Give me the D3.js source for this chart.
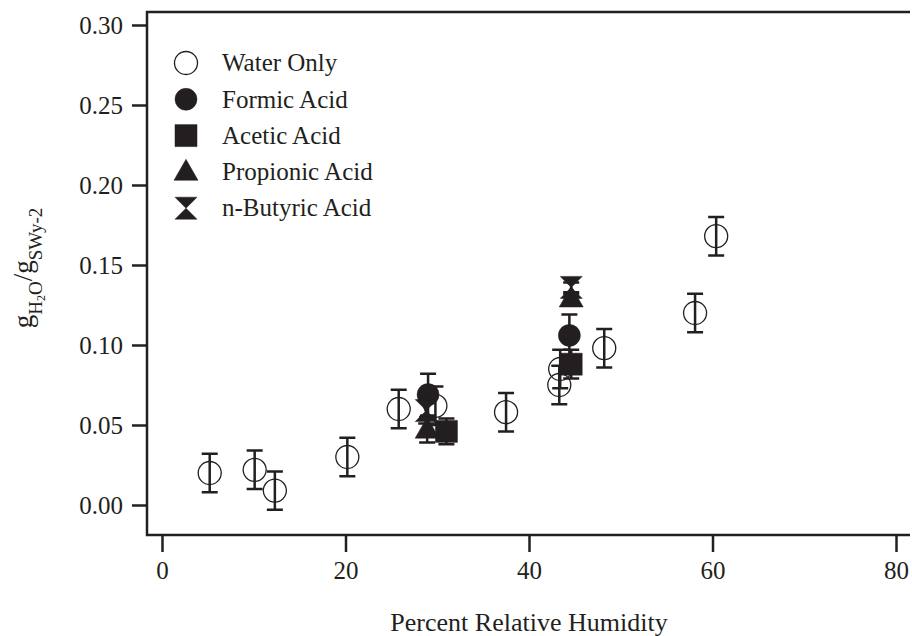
<!DOCTYPE html>
<html>
<head>
<meta charset="utf-8">
<script src="https://cdn.jsdelivr.net/npm/d3@7"></script>
<style>
  html, body { margin: 0; padding: 0; background: #fff; }
  svg { display: block; }
  text { font-family: "Liberation Serif", "Times New Roman", serif; fill: #231f20; }
</style>
</head>
<body>
<svg id="chart" width="912" height="636"></svg>
<script>
// ---- data ----
const xTicks = [0, 20, 40, 60, 80];
const yTicks = [0.00, 0.05, 0.10, 0.15, 0.20, 0.25, 0.30];

const seriesNames = ["Water Only", "Formic Acid", "Acetic Acid", "Propionic Acid", "n-Butyric Acid"];

const waterRH  = [5.2, 10.1, 12.3, 20.2, 25.8, 29.8, 37.5, 43.3, 43.4, 48.2, 58.1, 60.4];
const waterVal = [0.020, 0.022, 0.009, 0.030, 0.060, 0.062, 0.058, 0.075, 0.085, 0.098, 0.120, 0.168];
const waterErr = [0.012, 0.012, 0.012, 0.012, 0.012, 0.012, 0.012, 0.012, 0.012, 0.012, 0.012, 0.012];

const formicRH  = [29.0, 44.4];
const formicVal = [0.069, 0.106];
const formicErr = [0.013, 0.013];

const aceticRH  = [31.0, 44.6];
const aceticVal = [0.046, 0.088];
const aceticErr = [0.008, 0.009];

const propionicRH  = [28.9, 44.6];
const propionicVal = [0.047, 0.129];
const propionicErr = [0.008, 0.003];

const butyricRH  = [28.8, 44.6];
const butyricVal = [0.059, 0.136];
const butyricErr = [0.008, 0.003];

// ---- layout ----
const ink = "#231f20";
const svg = d3.select("#chart");
const x = d3.scaleLinear().domain([0, 80]).range([162, 896]);
const y = d3.scaleLinear().domain([0, 0.30]).range([505, 25]);
const frame = { left: 147, right: 910, top: 12, bottom: 535 };

function markerPath(kind, open) {
  switch (kind) {
    case "circle": {
      const r = open ? 11.5 : 11;
      return `M${-r},0A${r},${r} 0 1,0 ${r},0A${r},${r} 0 1,0 ${-r},0Z`;
    }
    case "square": {
      const s = 11;
      return `M${-s},${-s}H${s}V${s}H${-s}Z`;
    }
    case "triangle": {
      const w = 12, h = 21;
      return `M0,${-h * 0.6}L${w},${h * 0.4}L${-w},${h * 0.4}Z`;
    }
    case "hourglass": {
      const w = 11, h = 11;
      return `M${-w},${-h}H${w}L0,0L${w},${h}H${-w}L0,0Z`;
    }
  }
}

const series = [
  { name: seriesNames[0], rh: waterRH, val: waterVal, err: waterErr, kind: "circle", open: true },
  { name: seriesNames[1], rh: formicRH, val: formicVal, err: formicErr, kind: "circle", open: false },
  { name: seriesNames[2], rh: aceticRH, val: aceticVal, err: aceticErr, kind: "square", open: false },
  { name: seriesNames[3], rh: propionicRH, val: propionicVal, err: propionicErr, kind: "triangle", open: false },
  { name: seriesNames[4], rh: butyricRH, val: butyricVal, err: butyricErr, kind: "hourglass", open: false }
];

// ---- axes ----
const xAxis = d3.axisBottom(x).tickValues(xTicks).tickSize(17).tickSizeOuter(0).tickPadding(9).tickFormat(d3.format("d"));
const gx = svg.append("g").attr("transform", `translate(0,${frame.bottom})`).call(xAxis);
gx.select(".domain").remove();
gx.selectAll(".tick line").attr("stroke", ink).attr("stroke-width", 2.5);
gx.selectAll(".tick text").attr("font-size", 25).attr("fill", ink)
  .attr("font-family", '"Liberation Serif", "Times New Roman", serif');

const yAxis = d3.axisLeft(y).tickValues(yTicks).tickSize(15).tickSizeOuter(0).tickPadding(9).tickFormat(d3.format(".2f"));
const gy = svg.append("g").attr("transform", `translate(${frame.left},0)`).call(yAxis);
gy.select(".domain").remove();
gy.selectAll(".tick line").attr("stroke", ink).attr("stroke-width", 2.5);
gy.selectAll(".tick text").attr("font-size", 25).attr("fill", ink)
  .attr("font-family", '"Liberation Serif", "Times New Roman", serif');

// frame lines: left, bottom, top
svg.append("path")
  .attr("d", `M${frame.right},${frame.top}H${frame.left}V${frame.bottom}H${frame.right}`)
  .attr("fill", "none").attr("stroke", ink).attr("stroke-width", 2.5);

// axis titles
svg.append("text")
  .attr("x", (x(0) + x(80)) / 2).attr("y", 631)
  .attr("text-anchor", "middle").attr("font-size", 26)
  .text("Percent Relative Humidity");

const yl = svg.append("text")
  .attr("transform", "translate(32,268) rotate(-90)")
  .attr("text-anchor", "middle").attr("font-size", 27);
yl.append("tspan").text("g");
yl.append("tspan").attr("font-size", 19).attr("dy", 10).text("H");
yl.append("tspan").attr("font-size", 12).attr("dy", 3).text("2");
yl.append("tspan").attr("font-size", 19).attr("dy", -3).text("O");
yl.append("tspan").attr("font-size", 27).attr("dy", -10).text("/");
yl.append("tspan").attr("font-size", 27).text("g");
yl.append("tspan").attr("font-size", 19).attr("dy", 10).text("SWy-2");

// ---- data marks ----
const capW = 8;
series.forEach(s => {
  const g = svg.append("g");
  const pts = s.rh.map((r, i) => ({ r, v: s.val[i], e: s.err[i] }));
  g.selectAll("path.err").data(pts).join("path")
    .attr("class", "err")
    .attr("d", d => {
      const cx = x(d.r), y1 = y(d.v + d.e), y0 = y(d.v - d.e);
      return `M${cx},${y1}V${y0}M${cx - capW},${y1}H${cx + capW}M${cx - capW},${y0}H${cx + capW}`;
    })
    .attr("fill", "none").attr("stroke", ink).attr("stroke-width", 2.5);
  g.selectAll("path.mk").data(pts).join("path")
    .attr("class", "mk")
    .attr("transform", d => `translate(${x(d.r)},${y(d.v)})`)
    .attr("d", markerPath(s.kind, s.open))
    .attr("fill", s.open ? "none" : ink)
    .attr("stroke", ink)
    .attr("stroke-width", s.open ? 1.3 : 0.5);
});

// ---- legend ----
const legendX = 186, legendTextX = 222, legendY0 = 63, legendDy = 36.3;
const lg = svg.append("g");
series.forEach((s, i) => {
  const ly = legendY0 + i * legendDy;
  lg.append("path")
    .attr("transform", `translate(${legendX},${ly})`)
    .attr("d", markerPath(s.kind, s.open))
    .attr("fill", s.open ? "none" : ink)
    .attr("stroke", ink)
    .attr("stroke-width", s.open ? 1.3 : 0.5);
  lg.append("text")
    .attr("x", legendTextX).attr("y", ly)
    .attr("dy", "0.33em")
    .attr("font-size", 25)
    .text(s.name);
});
</script>
</body>
</html>
